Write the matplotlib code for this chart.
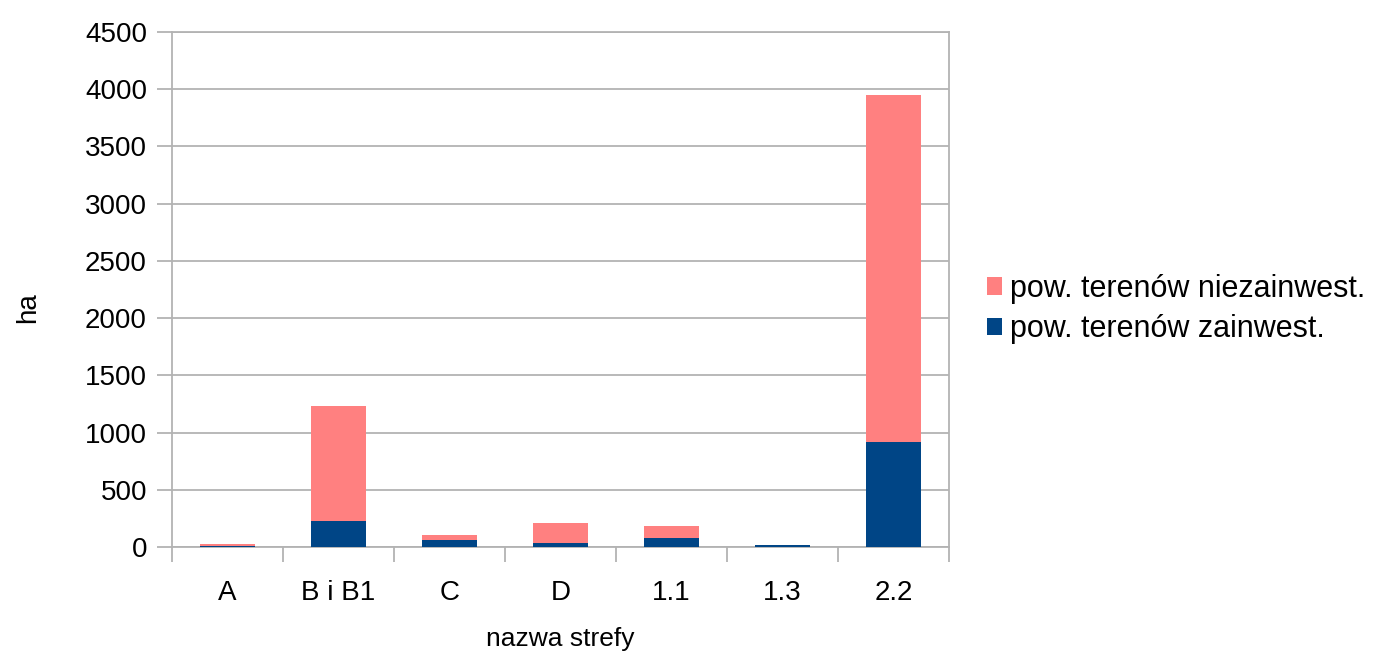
import numpy as np
import matplotlib.pyplot as plt

plt.rcParams['font.family'] = ['Liberation Sans', 'DejaVu Sans']

strefy = ['A', 'B i B1', 'C', 'D', '1.1', '1.3', '2.2']
zainwest = [10, 230, 60, 35, 80, 15, 920]
niezainwest = [15, 1000, 45, 175, 105, 0, 3030]

kolor_zainwest = '#004586'
kolor_nie = '#ff8080'
szary = '#b3b3b3'

fig = plt.figure(figsize=(13.81, 6.59), dpi=100)
ax = fig.add_axes([172 / 1381, 1 - 547 / 659, 777 / 1381, 515 / 659])

x = np.arange(len(strefy))
ax.bar(x, zainwest, width=0.49, color=kolor_zainwest, label='pow. terenów zainwest.', zorder=3)
ax.bar(x, niezainwest, width=0.49, bottom=zainwest, color=kolor_nie,
       label='pow. terenów niezainwest.', zorder=3)

ax.set_xlim(-0.5, len(strefy) - 0.5)
ax.set_ylim(0, 4500)
ax.set_yticks(np.arange(0, 4501, 500))
ax.yaxis.grid(True, color=szary, linewidth=1.3, zorder=0)

ax.set_xticks(x)
ax.set_xticklabels(strefy)
ax.set_xticks(np.arange(-0.5, len(strefy)), minor=True)
ax.tick_params(axis='x', which='major', length=0, pad=24, labelsize=20)
ax.tick_params(axis='x', which='minor', length=11, width=1.3, color=szary, direction='out')
ax.tick_params(axis='y', length=11, width=1.3, color=szary, direction='out', pad=7, labelsize=20)

for s in ax.spines.values():
    s.set_color(szary)
    s.set_linewidth(1.3)

ax.set_xlabel('nazwa strefy', fontsize=19, labelpad=15)
ax.set_ylabel('ha', fontsize=20, va='center')
ax.yaxis.set_label_coords(-0.185, 0.464)

h, l = ax.get_legend_handles_labels()
ax.legend(h[::-1], l[::-1], loc='center left', bbox_to_anchor=(1.049, 0.462),
          frameon=False, fontsize=22, handlelength=0.5, handleheight=0.5,
          handletextpad=0.26, labelspacing=0.35, borderpad=0, borderaxespad=0)

plt.savefig('out.png')
